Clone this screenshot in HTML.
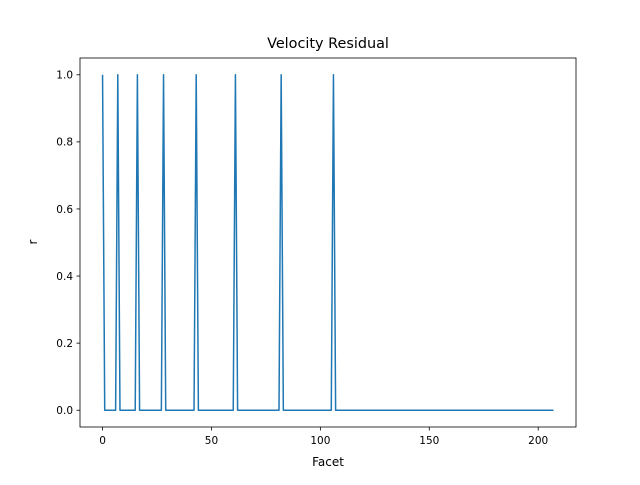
<!DOCTYPE html>
<html><head><meta charset="utf-8"><style>
body{margin:0;background:#fff;}
svg text{font-family:"DejaVu Sans","Liberation Sans",sans-serif;fill:#000;}
</style></head><body>
<svg id="chart" width="640" height="480" xmlns="http://www.w3.org/2000/svg">
<rect width="640" height="480" fill="#fff"/>
<text x="328" y="48" font-size="14.4" text-anchor="middle">Velocity Residual</text>
<g id="plot"></g>
<rect x="80" y="58" width="496" height="369" fill="none" stroke="#000" stroke-width="0.8"/>
<text x="328" y="466" font-size="12" text-anchor="middle">Facet</text>
<text x="37" y="242" font-size="12" text-anchor="middle" transform="rotate(-90 37 242)">r</text>
</svg>
<script>
const nPoints = 208;
const spikeFacets = [0, 7, 16, 28, 43, 61, 82, 106];
const spikeValue = 1;
const xTicks = [0, 50, 100, 150, 200];
const yTicks = [0.0, 0.2, 0.4, 0.6, 0.8, 1.0];
const yTickLabels = ["0.0", "0.2", "0.4", "0.6", "0.8", "1.0"];

const values = [];
for (let i = 0; i < nPoints; i++) values.push(spikeFacets.includes(i) ? spikeValue : 0);

const L = 80, R = 576, T = 58, B = 427;
const xmin = -0.05 * (nPoints - 1), xmax = (nPoints - 1) * 1.05;
const ymin = -0.05, ymax = 1.05;
const xs = v => L + (v - xmin) / (xmax - xmin) * (R - L);
const ys = v => B - (v - ymin) / (ymax - ymin) * (B - T);
const NS = "http://www.w3.org/2000/svg";
const svg = document.getElementById('chart');
const g = document.getElementById('plot');
function mk(tag, attrs, parent) { const e = document.createElementNS(NS, tag); for (const k in attrs) e.setAttribute(k, attrs[k]); parent.appendChild(e); return e; }

xTicks.forEach(t => {
  const x = xs(t);
  const l = mk('line', {x1: x, x2: x, y1: B, y2: B + 3.5, stroke: '#000', 'stroke-width': 0.8}, svg);
  
  
  const tx = mk('text', {x: x, y: B + 17, 'font-size': 10.5, 'text-anchor': 'middle'}, svg);
  tx.textContent = String(t);
  
  
});
yTicks.forEach((t, i) => {
  const y = ys(t);
  const l = mk('line', {x1: L - 3.5, x2: L, y1: y, y2: y, stroke: '#000', 'stroke-width': 0.8}, svg);
  
  
  const tx = mk('text', {x: L - 7, y: y + 3.8, 'font-size': 10.5, 'text-anchor': 'end'}, svg);
  tx.textContent = yTickLabels[i];
  
  
});
const pts = values.map((v, i) => xs(i).toFixed(2) + ',' + ys(v).toFixed(2)).join(' ');
const line = mk('polyline', {points: pts, fill: 'none', stroke: '#1f77b4', 'stroke-width': 1.5, 'stroke-linejoin': 'round'}, g);


</script>
</body></html>
